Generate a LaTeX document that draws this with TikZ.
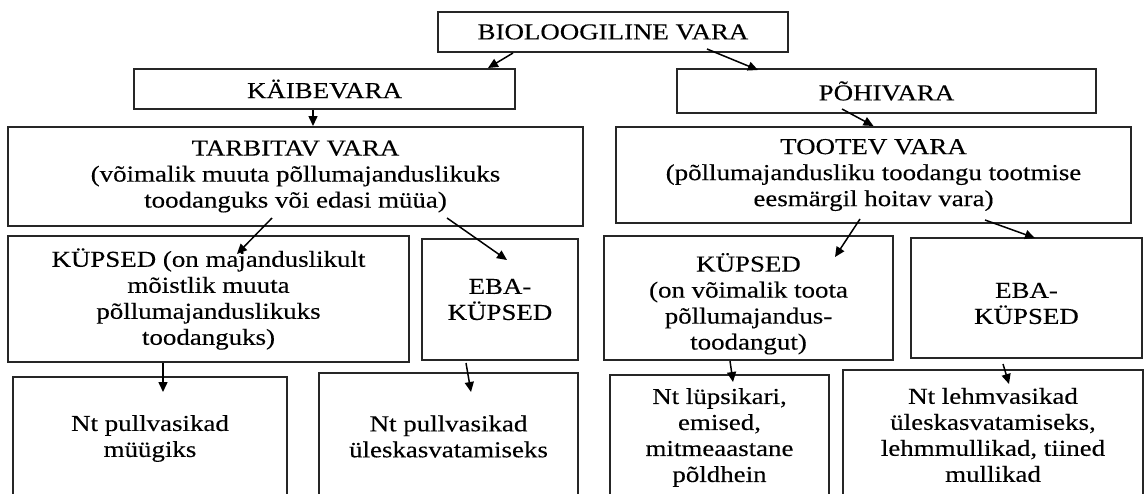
\documentclass[tikz,border=0pt]{standalone}
\usepackage{fontspec}
\setmainfont{Liberation Serif}[FakeStretch=1.18, FakeBold=0.25]
\usepackage{tikz}
\usetikzlibrary{arrows.meta, calc}

\begin{document}
\begin{tikzpicture}[
          x=0.5pt, y=-0.5pt,
          box/.style={rectangle, draw=black!85, line width=1pt, inner sep=0pt,
                      font=\fontsize{11.4}{13}\selectfont, align=center},
          arr/.style={-{Triangle[length=5pt, width=4.5pt]}, line width=0.75pt}
        ]
        \useasboundingbox (0,0) rectangle (1145,493);
        \clip (0,0) rectangle (1145,493);

        % top
        \node[box, minimum width=175pt, minimum height=20pt] (bio) at (613,32)
              {BIOLOOGILINE VARA};
        \node[box, minimum width=190.5pt, minimum height=20pt] (kaibe) at (324.5,89)
              {KÄIBEVARA};
        \node[box, minimum width=209.5pt, minimum height=22pt] (pohi) at (886.5,91)
              {PÕHIVARA};

        % second level
        \node[box, minimum width=287.5pt, minimum height=49.5pt] (tarb) at (295.5,176.5)
              {TARBITAV VARA\\(võimalik muuta põllumajanduslikuks\\toodanguks või edasi müüa)};
        \node[box, minimum width=257.5pt, minimum height=48pt] (tootev) at (873.5,175)
              {TOOTEV VARA\\(põllumajandusliku toodangu tootmise\\eesmärgil hoitav vara)};

        % mature / immature
        \node[box, minimum width=200.5pt, minimum height=63pt] (kyp1) at (208.5,299)
              {KÜPSED (on majanduslikult\\mõistlik muuta\\põllumajanduslikuks\\toodanguks)};
        \node[box, minimum width=78pt, minimum height=60.5pt] (eba1) at (500,299.5)
              {EBA-\\KÜPSED};
        \node[box, minimum width=144.5pt, minimum height=62pt] (kyp2) at (748.5,298)
              {\rule{0pt}{15pt}KÜPSED\\(on võimalik toota\\põllumajandus-\\toodangut)};
        \node[box, minimum width=115.5pt, minimum height=60pt] (eba2) at (1026.5,298)
              {\rule{0pt}{13pt}EBA-\\KÜPSED};

        % examples (cut off at the bottom)
        \node[box, minimum width=137pt, minimum height=61.5pt] (nt1) at (150,438.5)
              {Nt pullvasikad\\müügiks};
        \node[box, minimum width=129.5pt, minimum height=63.5pt] (nt2) at (448.5,436.5)
              {Nt pullvasikad\\üleskasvatamiseks};
        \node[box, minimum width=109.5pt, minimum height=62.5pt] (nt3) at (719.5,437.5)
              {Nt lüpsikari,\\emised,\\mitmeaastane\\põldhein};
        \node[box, minimum width=150pt, minimum height=65pt] (nt4) at (993,435)
              {Nt lehmvasikad\\üleskasvatamiseks,\\lehmmullikad, tiined\\mullikad};

        \draw[arr] ($(bio.south)+(-100,0)$) -- ($(kaibe.north east)+(-28,0)$);
        \draw[arr] ($(bio.south)+(94,-4)$) -- ($(pohi.north west)+(82,2)$);
        \draw[arr] ($(kaibe.south)+(-11.5,0)$) -- ($(tarb.north)+(17.5,0)$);
        \draw[arr] ($(pohi.south)+(-44.5,-5)$) -- (tootev.north);

        \draw[arr] ($(tarb.south)+(-23.5,-9)$) -- ($(kyp1.north)+(28.5,19)$);
        \draw[arr] ($(tarb.south)+(151.5,-9)$) -- ($(eba1.north)+(7,22)$);
        \draw[arr] ($(tootev.south)+(-13.5,-5)$) -- ($(kyp2.north)+(86.5,22)$);
        \draw[arr] ($(tootev.south)+(111.5,-4)$) -- ($(eba2.north)+(8.5,1)$);

        \draw[arr] ($(kyp1.south)+(-45.5,0)$) -- ($(nt1.north)+(13,16)$);
        \draw[arr] ($(eba1.south)+(-34,2)$) -- ($(nt2.north)+(22.5,20)$);
        \draw[arr] ($(kyp2.south)+(-18.5,0)$) -- ($(nt3.north)+(13.5,8)$);
        \draw[arr] ($(eba2.south)+(-23.5,5)$) -- ($(nt4.north)+(16,15)$);
      \end{tikzpicture}
\end{document}
